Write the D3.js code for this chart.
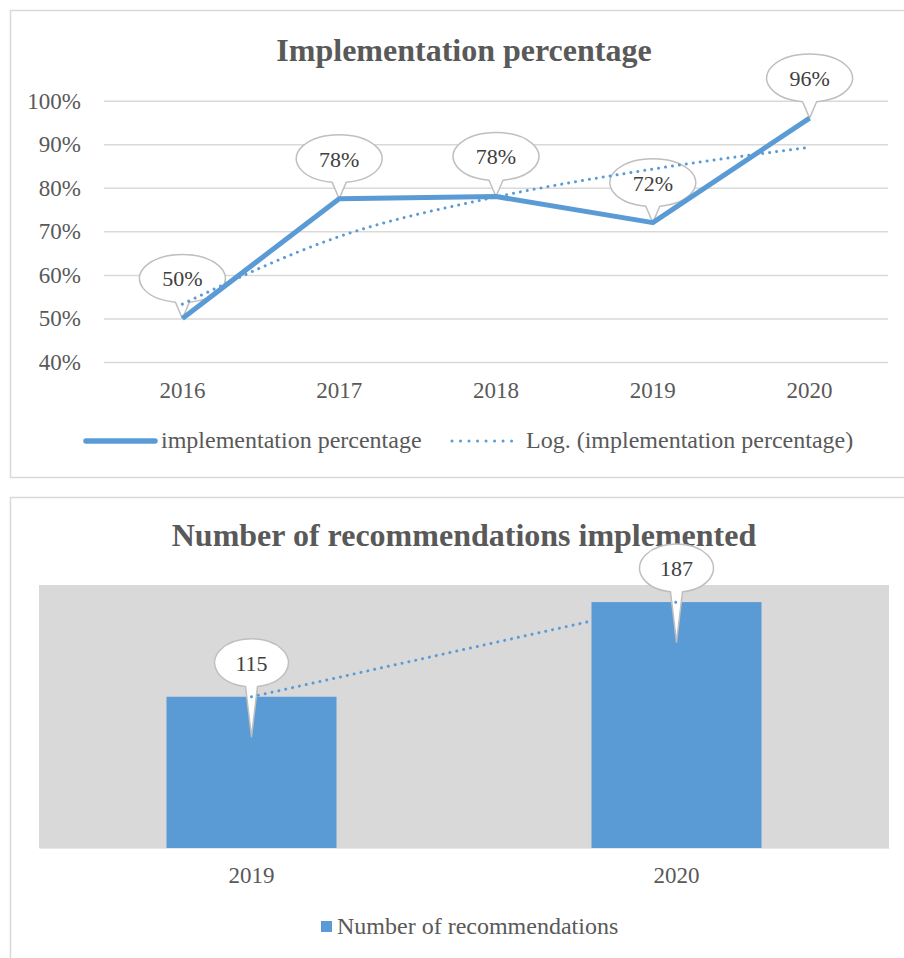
<!DOCTYPE html>
<html>
<head>
<meta charset="utf-8">
<script src="https://cdn.jsdelivr.net/npm/d3@7"></script>
<style>
  body { margin: 0; background: #fff; }
  svg { display: block; font-family: 'Liberation Serif', 'Times New Roman', serif; }
</style>
</head>
<body>
<svg id="chart" width="904" height="958"></svg>
<script>
// top chart data
const years = ['2016', '2017', '2018', '2019', '2020'];
const implPct = [0.50, 0.775, 0.78, 0.72, 0.96];
const implLabels = ['50%', '78%', '78%', '72%', '96%'];
const implTrend = [0.533, 0.688, 0.779, 0.843, 0.893]; // Log. trendline
const pctTicks = [0.4, 0.5, 0.6, 0.7, 0.8, 0.9, 1.0];

// bottom chart data
const recYears = ['2019', '2020'];
const recCounts = [115, 187];
const recTrend = [115, 187];

const blue = '#5b9bd5';
const textGrey = '#595959';
const lineGrey = '#d9d9d9';

const svg = d3.select('#chart');

// panels
svg.append('rect').attr('x', 10.5).attr('y', 10.5).attr('width', 910).attr('height', 467)
  .attr('fill', '#fff').attr('stroke', lineGrey).attr('stroke-width', 1.5);
svg.append('rect').attr('x', 10.5).attr('y', 497.5).attr('width', 910).attr('height', 480)
  .attr('fill', '#fff').attr('stroke', lineGrey).attr('stroke-width', 1.5);

// speech bubble with a pointer to (tx, ty)
function callout(g, cx, cy, rx, ry, half, tx, ty, label, fontSize) {
  const yb = cy + ry * Math.sqrt(1 - (half / rx) ** 2);
  g.append('path')
    .attr('d', `M${cx + half},${yb} A${rx},${ry} 0 1 0 ${cx - half},${yb} L${tx},${ty} Z`)
    .attr('fill', '#fff')
    .attr('stroke', '#bfbfbf')
    .attr('stroke-width', 1.5)
    .attr('stroke-linejoin', 'round');
  g.append('text')
    .attr('x', cx)
    .attr('y', cy)
    .attr('dy', '0.36em')
    .attr('text-anchor', 'middle')
    .attr('font-size', fontSize)
    .attr('fill', '#404040')
    .text(label);
}

// axis groups come with sans-serif defaults; drop them
function styleAxis(g) {
  g.attr('font-family', null).attr('font-size', null);
  g.selectAll('text').attr('fill', textGrey).attr('font-size', 23);
}

// ---------- Implementation percentage ----------
{
  const x = d3.scaleBand().domain(years).range([104, 888]);
  const y = d3.scaleLinear().domain([0.4, 1]).range([362, 100.7]);
  const cx = (d) => x(d) + x.bandwidth() / 2;

  svg.append('text')
    .attr('x', 464).attr('y', 61)
    .attr('text-anchor', 'middle')
    .attr('font-size', 32).attr('font-weight', 'bold')
    .attr('fill', textGrey)
    .text('Implementation percentage');

  const yAxis = svg.append('g')
    .attr('transform', 'translate(104,0)')
    .call(d3.axisLeft(y).tickValues(pctTicks).tickFormat(d3.format('.0%'))
      .tickSize(-784).tickPadding(23));
  yAxis.select('.domain').remove();
  yAxis.selectAll('line').attr('stroke', lineGrey).attr('stroke-width', 1.5);
  styleAxis(yAxis);

  const xAxis = svg.append('g')
    .attr('transform', 'translate(0,362)')
    .call(d3.axisBottom(x).tickSize(0).tickPadding(20));
  xAxis.select('.domain').remove();
  styleAxis(xAxis);

  const bubbles = svg.append('g');
  years.forEach((yr, i) => {
    const px = cx(yr), py = y(implPct[i]);
    callout(bubbles, px, py - 40, 43, 24, 7, px, py, implLabels[i], 22);
  });

  svg.append('path')
    .datum(implPct)
    .attr('fill', 'none')
    .attr('stroke', blue)
    .attr('stroke-width', 5)
    .attr('stroke-linejoin', 'round')
    .attr('d', d3.line().x((d, i) => cx(years[i])).y((d) => y(d)));

  svg.append('path')
    .datum(implTrend)
    .attr('fill', 'none')
    .attr('stroke', blue)
    .attr('stroke-width', 3)
    .attr('stroke-linecap', 'round')
    .attr('stroke-dasharray', '0.01 7')
    .attr('d', d3.line().curve(d3.curveMonotoneX).x((d, i) => cx(years[i])).y((d) => y(d)));

  // legend
  const lg = svg.append('g').attr('font-size', 24).attr('fill', textGrey);
  lg.append('line').attr('x1', 86).attr('x2', 155).attr('y1', 441).attr('y2', 441)
    .attr('stroke', blue).attr('stroke-width', 5.5).attr('stroke-linecap', 'round');
  lg.append('text').attr('x', 161).attr('y', 448).text('implementation percentage');
  lg.append('line').attr('x1', 452).attr('x2', 520).attr('y1', 441).attr('y2', 441)
    .attr('stroke', blue).attr('stroke-width', 3).attr('stroke-linecap', 'round')
    .attr('stroke-dasharray', '0.01 8.5');
  lg.append('text').attr('x', 526).attr('y', 448).text('Log. (implementation percentage)');
}

// ---------- Number of recommendations implemented ----------
{
  const x = d3.scaleBand().domain(recYears).range([39, 889]).paddingInner(0.6).paddingOuter(0.3);
  const y = d3.scaleLinear().domain([0, 200]).range([848, 585]);
  const cx = (d) => x(d) + x.bandwidth() / 2;

  svg.append('text')
    .attr('x', 464).attr('y', 546)
    .attr('text-anchor', 'middle')
    .attr('font-size', 32).attr('font-weight', 'bold')
    .attr('fill', textGrey)
    .text('Number of recommendations implemented');

  svg.append('rect')
    .attr('x', 39).attr('y', y(200))
    .attr('width', 850).attr('height', y(0) - y(200))
    .attr('fill', lineGrey);

  svg.append('g')
    .selectAll('rect')
    .data(recCounts)
    .join('rect')
    .attr('x', (d, i) => x(recYears[i]))
    .attr('y', (d) => y(d))
    .attr('width', x.bandwidth())
    .attr('height', (d) => y(0) - y(d))
    .attr('fill', blue);

  const xAxis = svg.append('g')
    .attr('transform', `translate(0,${y(0)})`)
    .call(d3.axisBottom(x).tickSize(0).tickPadding(19));
  xAxis.select('.domain').attr('stroke', '#e8e8e8').attr('stroke-width', 1);
  styleAxis(xAxis);

  const bubbles = svg.append('g');
  recYears.forEach((yr, i) => {
    const px = cx(yr), top = y(recCounts[i]);
    callout(bubbles, px, top - 34, 37, 24, 6, px, top + 40, String(recCounts[i]), 22);
  });

  svg.append('path')
    .datum(recTrend)
    .attr('fill', 'none')
    .attr('stroke', blue)
    .attr('stroke-width', 3)
    .attr('stroke-linecap', 'round')
    .attr('stroke-dasharray', '0.01 7')
    .attr('d', d3.line().x((d, i) => cx(recYears[i])).y((d) => y(d)));

  // legend
  svg.append('rect').attr('x', 321).attr('y', 921).attr('width', 11).attr('height', 11).attr('fill', blue);
  svg.append('text').attr('x', 337).attr('y', 934)
    .attr('font-size', 24).attr('fill', textGrey)
    .text('Number of recommendations');
}
</script>
</body>
</html>
